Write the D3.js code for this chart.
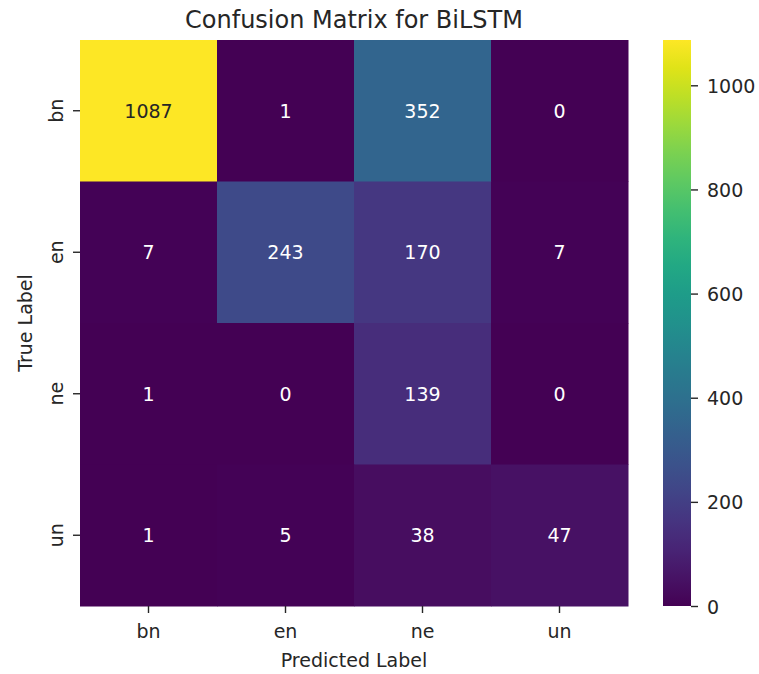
<!DOCTYPE html>
<html>
<head>
<meta charset="utf-8">
<script src="https://cdn.jsdelivr.net/npm/d3@7"></script>
<style>
  html, body { margin: 0; padding: 0; background: #fff; }
  text { font-family: "DejaVu Sans", sans-serif; }
</style>
</head>
<body>
<svg id="chart" width="759" height="674"></svg>
<script>
// Confusion matrix for the BiLSTM language classifier
const labels = ["bn", "en", "ne", "un"];
const rowBn = [1087, 1, 352, 0];
const rowEn = [7, 243, 170, 7];
const rowNe = [1, 0, 139, 0];
const rowUn = [1, 5, 38, 47];
const matrix = [rowBn, rowEn, rowNe, rowUn];
const colorTicks = [0, 200, 400, 600, 800, 1000];

const svg = d3.select("#chart");
const area = { left: 80, top: 40, right: 628, bottom: 606 };
const fs = "19px";
const ink = "#262626";
const tickLen = 7;

const x = d3.scaleBand().domain(labels).range([area.left, area.right]);
const y = d3.scaleBand().domain(labels).range([area.top, area.bottom]);

const vmax = d3.max(matrix.flat());
const vmin = d3.min(matrix.flat());
const color = d3.scaleSequential(d3.interpolateViridis).domain([vmin, vmax]);

const cells = [];
matrix.forEach((row, i) => row.forEach((v, j) => cells.push({ r: labels[i], c: labels[j], v })));

svg.append("g").selectAll("rect").data(cells).join("rect")
  .attr("x", d => x(d.c))
  .attr("y", d => y(d.r))
  .attr("width", x.bandwidth() + 0.5)
  .attr("height", y.bandwidth() + 0.5)
  .attr("fill", d => color(d.v));

// cell annotations: dark text on bright cells, white on dark ones
svg.append("g").selectAll("text").data(cells).join("text")
  .attr("x", d => x(d.c) + x.bandwidth() / 2)
  .attr("y", d => y(d.r) + y.bandwidth() / 2)
  .attr("text-anchor", "middle")
  .attr("dominant-baseline", "central")
  .attr("font-size", fs)
  .attr("fill", d => {
    const c = d3.rgb(color(d.v));
    const lum = 0.2126 * c.r + 0.7152 * c.g + 0.0722 * c.b;
    return lum > 140 ? ink : "#ffffff";
  })
  .text(d => d.v);

// x axis
const xAxis = svg.append("g")
  .attr("transform", `translate(0,${area.bottom})`)
  .call(d3.axisBottom(x).tickSize(tickLen));
xAxis.select(".domain").remove();
xAxis.selectAll("line").attr("stroke", ink).attr("stroke-width", 1.4);
xAxis.selectAll("text")
  .attr("font-size", fs).attr("fill", ink).attr("font-family", "DejaVu Sans")
  .attr("dy", null).attr("y", 32);

// y axis with vertical tick labels
const yAxis = svg.append("g")
  .attr("transform", `translate(${area.left},0)`)
  .call(d3.axisLeft(y).tickSize(tickLen));
yAxis.select(".domain").remove();
yAxis.selectAll("line").attr("stroke", ink).attr("stroke-width", 1.4);
yAxis.selectAll("text")
  .attr("font-size", fs).attr("fill", ink).attr("font-family", "DejaVu Sans")
  .attr("text-anchor", "middle")
  .attr("dy", null)
  .attr("x", null)
  .attr("transform", "translate(-24,0) rotate(-90)")
  .attr("dominant-baseline", "central");

// title and axis labels
svg.append("text")
  .attr("x", (area.left + area.right) / 2).attr("y", 28)
  .attr("text-anchor", "middle").attr("font-size", "24px").attr("fill", ink)
  .text("Confusion Matrix for BiLSTM");

svg.append("text")
  .attr("x", (area.left + area.right) / 2).attr("y", 667)
  .attr("text-anchor", "middle").attr("font-size", fs).attr("fill", ink)
  .text("Predicted Label");

svg.append("text")
  .attr("transform", `translate(32,${(area.top + area.bottom) / 2}) rotate(-90)`)
  .attr("text-anchor", "middle").attr("font-size", fs).attr("fill", ink)
  .text("True Label");

// colorbar
const cbX = 663, cbW = 28;
const cbScale = d3.scaleLinear().domain([vmin, vmax]).range([area.bottom, area.top]);
const grad = svg.append("defs").append("linearGradient").attr("id", "cbgrad")
  .attr("x1", 0).attr("y1", 1).attr("x2", 0).attr("y2", 0);
d3.range(0, 1.0001, 0.05).forEach(t => {
  grad.append("stop").attr("offset", t).attr("stop-color", d3.interpolateViridis(t));
});
svg.append("rect")
  .attr("x", cbX).attr("y", area.top)
  .attr("width", cbW).attr("height", area.bottom - area.top)
  .attr("fill", "url(#cbgrad)");

const cbAxis = svg.append("g")
  .attr("transform", `translate(${cbX + cbW},0)`)
  .call(d3.axisRight(cbScale).tickValues(colorTicks).tickFormat(d3.format("d"))
    .tickSize(tickLen).tickPadding(9));
cbAxis.select(".domain").remove();
cbAxis.selectAll("line").attr("stroke", ink).attr("stroke-width", 1.4);
cbAxis.selectAll("text").attr("font-size", fs).attr("fill", ink).attr("font-family", "DejaVu Sans")
  .attr("dy", null).attr("dominant-baseline", "central");
</script>
</body>
</html>
